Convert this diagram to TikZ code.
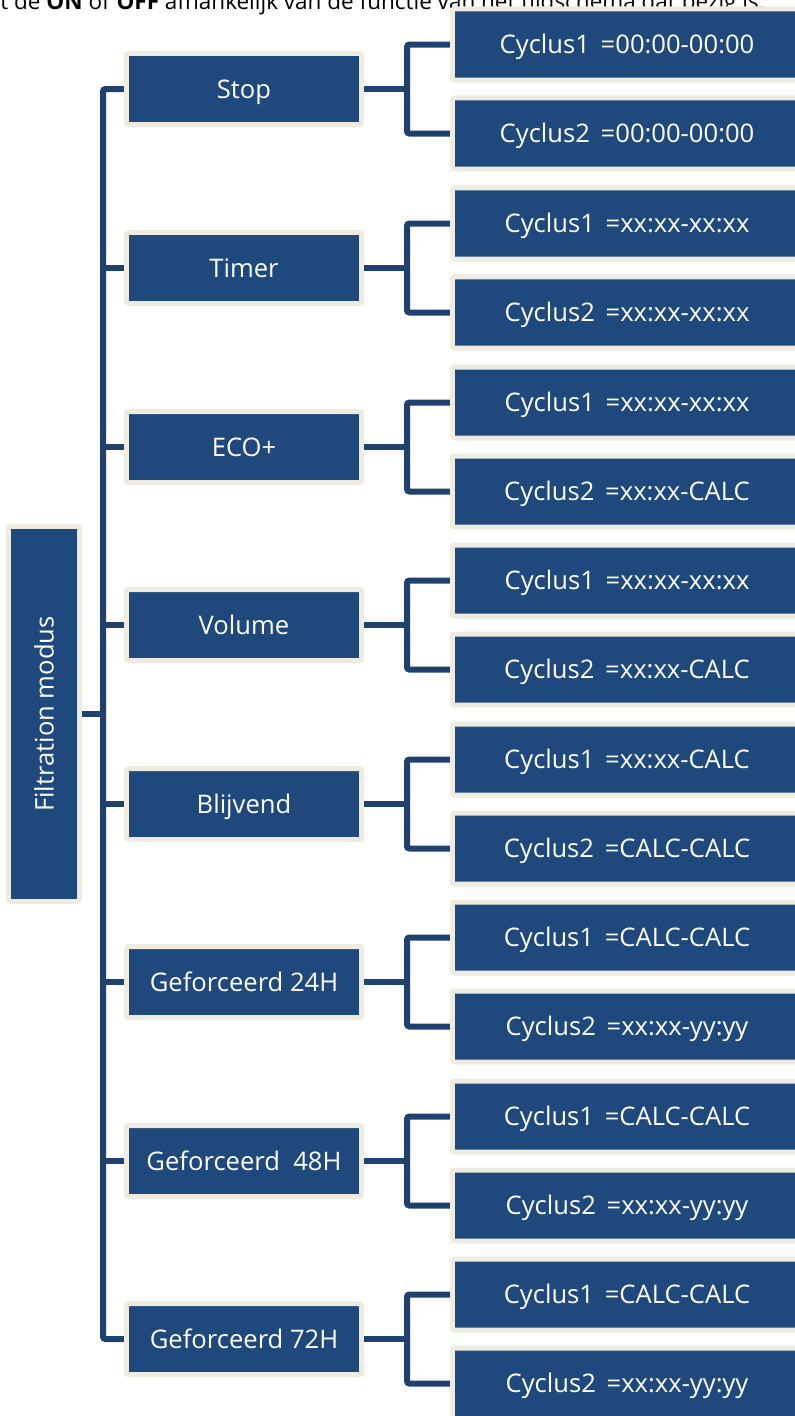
\documentclass[tikz,border=0pt]{standalone}
\usepackage{fontspec}
\setmainfont{Open Sans}
\usetikzlibrary{positioning, calc}

\definecolor{modeblue}{HTML}{1F497D}
\definecolor{boxrim}{HTML}{EEECE1}
\definecolor{linkblue}{HTML}{1E416F}

\newcommand{\boxfont}{\fontsize{18.2}{22}\selectfont}
\newcommand{\gap}{\hspace{0.42em}}

\begin{document}
\begin{tikzpicture}[x=0.025cm, y=-0.025cm,
    box/.style={fill=modeblue, draw=boxrim, line width=0.125cm, rounded corners=0.05cm,
        text=white, font=\boxfont, inner sep=0pt, text height=13pt, text depth=0pt},
    modebox/.style={box, minimum width=5.875cm, minimum height=1.775cm},
    cyclebox/.style={box, minimum width=8.725cm, minimum height=1.775cm},
    link/.style={draw=linkblue, line width=0.15cm, rounded corners=0.06cm}]

    % Frame
    \useasboundingbox (0,0) rectangle (795,1416);
    \clip (0,0) rectangle (795,1416);

    % Running text above
    \node[anchor=base east, inner sep=0pt, font=\fontsize{16}{19}\selectfont] (note) at (765,9)
        {t de \textbf{ON} of \textbf{OFF} afhankelijk van de functie van het tijdschema dat bezig is.};

    % Root
    \node[box, minimum width=1.775cm, minimum height=9.375cm, text height=, text depth=] (root) at (44,714)
        {\rotatebox{90}{Filtration modus}};

    \coordinate (trunk) at (103,714);
    \coordinate (split) at (407,0);

    % Modes and their two cycles
    \foreach \name/\label/\ypos/\cone/\ctwo in {
        stop/Stop/89/=00:00-00:00/=00:00-00:00,
        timer/Timer/268/=xx:xx-xx:xx/=xx:xx-xx:xx,
        eco/ECO+/447/=xx:xx-xx:xx/=xx:xx-CALC,
        volume/Volume/625/=xx:xx-xx:xx/=xx:xx-CALC,
        blijvend/Blijvend/804/=xx:xx-CALC/=CALC-CALC,
        gf24/Geforceerd 24H/982/=CALC-CALC/=xx:xx-yy:yy,
        gf48/Geforceerd\ \ 48H/1161/=CALC-CALC/=xx:xx-yy:yy,
        gf72/Geforceerd 72H/1339/=CALC-CALC/=xx:xx-yy:yy} {
        \node[modebox] (\name) at (244,\ypos) {\label};
        \node[cyclebox] (\name-1) at ($(\name)+(383,-44.5)$) {Cyclus1\gap\cone};
        \node[cyclebox] (\name-2) at ($(\name)+(383,44.5)$) {Cyclus2\gap\ctwo};

        \draw[link] (\name.east) -- (\name.east -| split);
        \draw[link] (\name-1.west) -| (\name-2.west -| split) -- (\name-2.west);
    }

    % Trunk
    \draw[link] (root.east) -- (trunk);
    \draw[link] (stop.west) -| (gf72.west -| trunk) -- (gf72.west);
    \foreach \name in {timer, eco, volume, blijvend, gf24, gf48}
        \draw[link] (trunk |- \name.west) -- (\name.west);

\end{tikzpicture}
\end{document}
